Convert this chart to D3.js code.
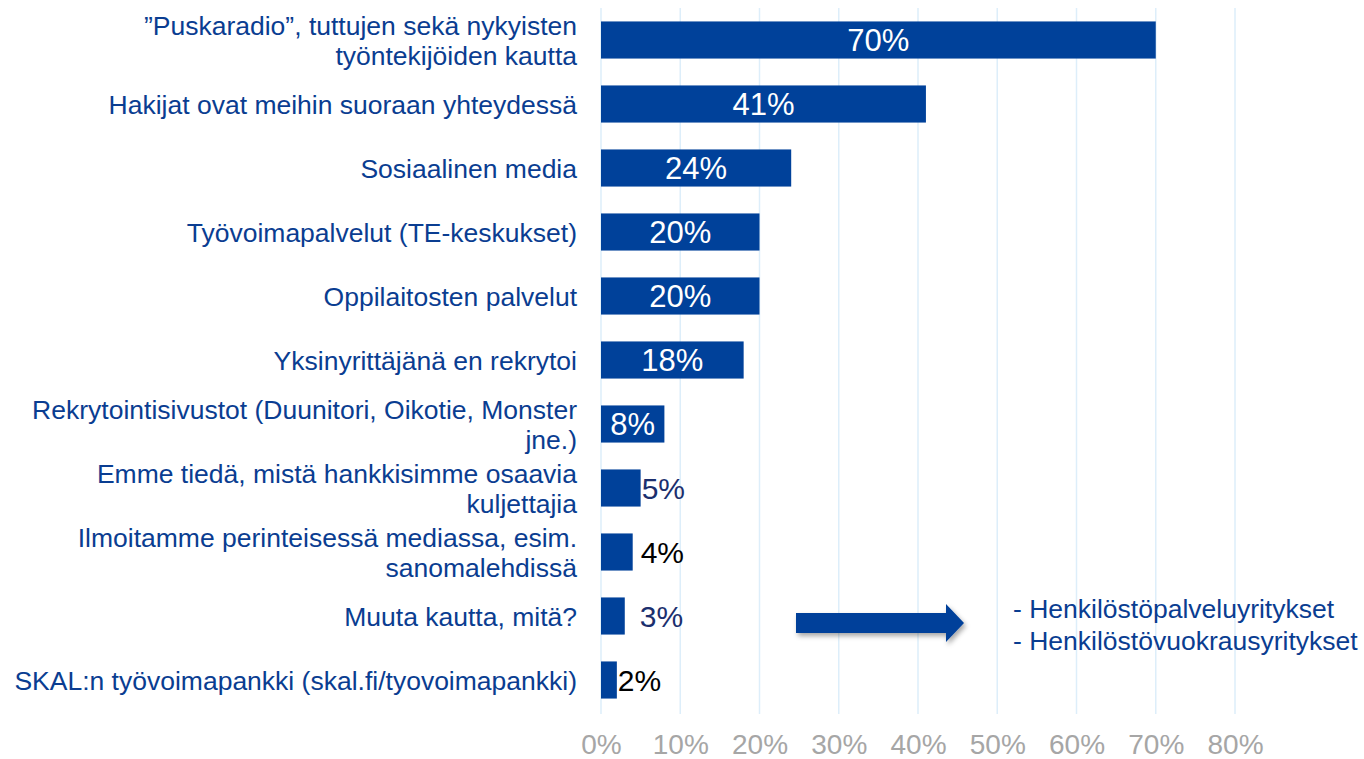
<!DOCTYPE html>
<html>
<head>
<meta charset="utf-8">
<script src="https://cdn.jsdelivr.net/npm/d3@7"></script>
<style>
  body { margin: 0; background: #fff; }
  text { font-family: "Liberation Sans", Arial, sans-serif; }
</style>
</head>
<body>
<script>
// categories (| marks a line break in the label)
var categories = [
  "\u201dPuskaradio\u201d, tuttujen sekä nykyisten|työntekijöiden kautta",
  "Hakijat ovat meihin suoraan yhteydessä",
  "Sosiaalinen media",
  "Työvoimapalvelut (TE-keskukset)",
  "Oppilaitosten palvelut",
  "Yksinyrittäjänä en rekrytoi",
  "Rekrytointisivustot (Duunitori, Oikotie, Monster|jne.)",
  "Emme tiedä, mistä hankkisimme osaavia|kuljettajia",
  "Ilmoitamme perinteisessä mediassa, esim.|sanomalehdissä",
  "Muuta kautta, mitä?",
  "SKAL:n työvoimapankki (skal.fi/tyovoimapankki)"
];
var values = [70, 41, 24, 20, 20, 18, 8, 5, 4, 3, 2];
var ticks = [0, 10, 20, 30, 40, 50, 60, 70, 80];
var noteLines = ["- Henkilöstöpalveluyritykset", "- Henkilöstövuokrausyritykset"];

// label placement tweaks for the small outside labels (px after bar end)
var outsideNudge = [0, 0, 0, 0, 0, 0, 0, 0, 7, 14, 0];
var outsideColor = [null, null, null, null, null, null, null, "#1b2f6e", "#000", "#1b2f6e", "#000"];

var width = 1364, height = 759;
var blue = "#00419a";

var svg = d3.select("body").append("svg")
  .attr("width", width)
  .attr("height", height);

var x = d3.scaleLinear().domain([0, 80]).range([601, 1235]);
var y = d3.scaleBand().domain(d3.range(categories.length)).range([8, 712]).paddingInner(0.42).paddingOuter(0.21);

// gridlines
svg.append("g").selectAll("line")
  .data(ticks)
  .enter().append("line")
    .attr("x1", function(d) { return x(d); })
    .attr("x2", function(d) { return x(d); })
    .attr("y1", 8)
    .attr("y2", 714)
    .attr("stroke", "#ddeefa")
    .attr("stroke-width", 1.5);

// x axis labels
var xAxis = svg.append("g")
  .attr("transform", "translate(0,714)")
  .call(d3.axisBottom(x).tickValues(ticks).tickFormat(function(d) { return d + "%"; }).tickSize(0).tickPadding(20));
xAxis.select(".domain").remove();
xAxis.selectAll("text")
  .attr("fill", "#a6a6a6")
  .style("font-size", "28px")
  .style("font-family", "'Liberation Sans', Arial, sans-serif");

// bars
svg.append("g").selectAll("rect")
  .data(values)
  .enter().append("rect")
    .attr("x", x(0))
    .attr("y", function(d, i) { return y(i); })
    .attr("width", function(d) { return x(d) - x(0); })
    .attr("height", y.bandwidth())
    .attr("fill", blue);

// value labels
svg.append("g").selectAll("text")
  .data(values)
  .enter().append("text")
    .attr("x", function(d, i) { return d >= 8 ? (x(0) + x(d)) / 2 : x(d) + 1 + outsideNudge[i]; })
    .attr("y", function(d, i) { return y(i) + y.bandwidth() / 2; })
    .attr("dy", "0.36em")
    .attr("text-anchor", function(d) { return d >= 8 ? "middle" : "start"; })
    .attr("fill", function(d, i) { return d >= 8 ? "#fff" : outsideColor[i]; })
    .style("font-size", function(d) { return d >= 8 ? "31px" : "30px"; })
    .text(function(d) { return d + "%"; });

// category labels
var labels = svg.append("g").selectAll("text")
  .data(categories)
  .enter().append("text")
    .attr("text-anchor", "end")
    .attr("fill", "#0a3d91")
    .style("font-size", "26.5px");
labels.each(function(d, i) {
  var lines = d.split("|");
  var cy = y(i) + y.bandwidth() / 2;
  var t = d3.select(this);
  lines.forEach(function(line, j) {
    t.append("tspan")
      .attr("x", 577)
      .attr("y", cy + (j - (lines.length - 1) / 2) * 30)
      .attr("dy", "0.36em")
      .text(line);
  });
});

// arrow with shadow
var defs = svg.append("defs");
var f = defs.append("filter").attr("id", "shadow").attr("x", "-20%").attr("y", "-50%").attr("width", "140%").attr("height", "200%");
f.append("feDropShadow").attr("dx", 2).attr("dy", 3).attr("stdDeviation", 2.5).attr("flood-color", "#000").attr("flood-opacity", 0.35);

var ay = 623;
svg.append("path")
  .attr("d", "M796," + (ay - 10) + " L946," + (ay - 10) + " L946," + (ay - 19) + " L964," + ay +
             " L946," + (ay + 19) + " L946," + (ay + 10) + " L796," + (ay + 10) + " Z")
  .attr("fill", blue)
  .attr("filter", "url(#shadow)");

svg.append("g").selectAll("text")
  .data(noteLines)
  .enter().append("text")
    .attr("x", 1013)
    .attr("y", function(d, i) { return 608 + i * 32; })
    .attr("dy", "0.36em")
    .attr("fill", "#0a3d91")
    .style("font-size", "26.5px")
    .text(function(d) { return d; });
</script>
</body>
</html>
